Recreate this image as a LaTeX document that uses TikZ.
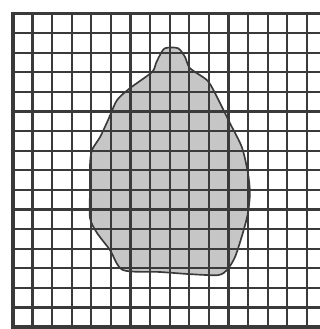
\documentclass[tikz,border=0pt]{standalone}
\usepackage{tikz}
\usetikzlibrary{positioning}
\definecolor{gridgray}{HTML}{3A3A3A}
\definecolor{blobgray}{HTML}{C6C6C6}

\begin{document}
\begin{tikzpicture}[x=0.5cm, y=0.5cm,
    gridline/.style={draw=gridgray, line width=1.6pt},
    frameline/.style={draw=gridgray, line width=2.8pt},
    blobline/.style={draw=gridgray, line width=1.2pt}
]
    \useasboundingbox (-0.663,-0.10) rectangle (15.66,16.69);
    % the gray region
    \def\blobpath{plot[smooth cycle, tension=0.45] coordinates {
        (7.76,14.23) (8.42,14.23) (8.78,13.78) (9.03,13.21) (9.90,12.60)
        (10.31,11.94) (11.07,10.41) (11.68,9.18) (11.99,7.86) (12.09,6.84)
        (11.99,5.82) (11.73,4.80) (11.33,3.57) (10.92,2.91) (10.46,2.65)
        (9.03,2.70) (7.50,2.81) (5.61,2.91) (4.95,3.93) (4.29,4.80)
        (3.93,5.56) (3.93,6.99) (3.93,8.27) (4.03,9.03) (4.44,9.69)
        (4.85,10.56) (5.31,11.58) (5.97,12.19) (7.09,13.01) (7.30,13.47)
        (7.50,13.88)}}
    \fill[blobgray] \blobpath;
    % grid
    \foreach \i in {1,...,15}
        \draw[gridline] (\i,0) -- (\i,16);
    \foreach \j in {1,...,15}
        \draw[gridline] (0,\j) -- (15.66,\j);
    \draw[blobline] \blobpath;
    % frame
    \draw[frameline] (15.66,16) -- (0,16) -- (0,0) -- (15.66,0);
\end{tikzpicture}
\end{document}
